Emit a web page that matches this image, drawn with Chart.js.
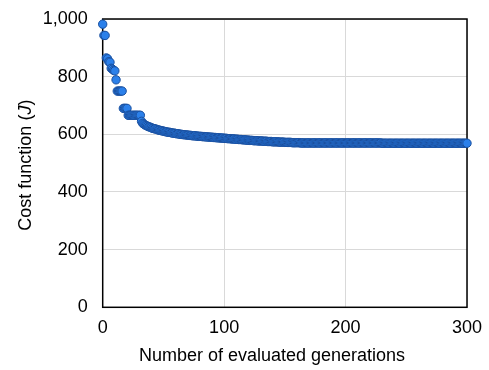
<!DOCTYPE html>
<html>
<head>
<meta charset="utf-8">
<script src="https://cdn.jsdelivr.net/npm/chart.js@4.4.0/dist/chart.umd.min.js"></script>
<style>
  html, body { margin:0; padding:0; background:#fff; }
  #wrap { width:489px; height:370px; position:relative; }
</style>
</head>
<body>
<div id="wrap"><canvas id="costChart" width="489" height="370"></canvas></div>
<script>
/* ── Data (best cost per generation, 0..300) ── */
const xTicks = [0, 100, 200, 300];
const yTicks = [0, 200, 400, 600, 800, 1000];
const costValues = [
  982, 943, 943, 865, 862, 852, 850, 829, 826, 822,
  820, 789, 750, 750, 750, 750, 750, 690, 690, 690,
  690, 666, 666, 666, 666, 666, 666, 666, 666, 666,
  666, 666, 645, 638, 635, 632, 630, 628, 626, 625,
  623, 621, 620, 619, 618, 616, 615, 614, 613, 612,
  611, 610, 609, 608, 607, 607, 606, 605, 604, 604,
  603, 602, 602, 601, 600, 600, 599, 599, 598, 598,
  597, 597, 596, 596, 595, 595, 595, 594, 594, 593,
  593, 593, 592, 592, 592, 591, 591, 591, 590, 590,
  590, 589, 589, 589, 588, 588, 588, 587, 587, 587,
  586, 586, 586, 585, 585, 585, 584, 584, 584, 583,
  583, 583, 582, 582, 582, 581, 581, 581, 580, 580,
  580, 579, 579, 579, 578, 578, 578, 578, 577, 577,
  577, 577, 576, 576, 576, 576, 575, 575, 575, 575,
  574, 574, 574, 574, 574, 573, 573, 573, 573, 573,
  572, 572, 572, 572, 572, 572, 571, 571, 571, 571,
  571, 571, 571, 570, 570, 570, 570, 570, 570, 570,
  570, 570, 570, 570, 570, 570, 570, 570, 570, 570,
  570, 570, 570, 570, 570, 570, 570, 570, 570, 570,
  570, 570, 570, 570, 570, 570, 570, 570, 570, 570,
  570, 570, 570, 570, 570, 570, 570, 570, 570, 570,
  570, 570, 570, 570, 570, 570, 570, 570, 570, 570,
  570, 570, 570, 570, 570, 570, 570, 570, 570, 570,
  569, 569, 569, 569, 569, 569, 569, 569, 569, 569,
  569, 569, 569, 569, 569, 569, 569, 569, 569, 569,
  569, 569, 569, 569, 569, 569, 569, 569, 569, 569,
  569, 569, 569, 569, 569, 569, 569, 569, 569, 569,
  569, 569, 569, 569, 569, 569, 569, 569, 569, 569,
  569, 569, 569, 569, 569, 569, 569, 569, 569, 569,
  569, 569, 569, 569, 569, 569, 569, 569, 569, 569,
  569
];
const xTitle = 'Number of evaluated generations';
const yTitleParts = [
  { text:'Cost function (', italic:false },
  { text:'J', italic:true },
  { text:')', italic:false }
];

const FONT = '"Liberation Sans", Arial, sans-serif';

/* ── frame box + axis titles (J in italics) ── */
const framePlugin = {
  id:'frame',
  beforeDatasetsDraw(chart) {
    const { ctx, chartArea:a } = chart;
    ctx.save();
    ctx.strokeStyle = '#000';
    ctx.lineWidth = 1.5;
    ctx.strokeRect(a.left, a.top, a.right - a.left, a.bottom - a.top);
    ctx.restore();
  },
  afterDraw(chart) {
    const { ctx, chartArea:a } = chart;
    ctx.save();
    ctx.fillStyle = '#000';
    ctx.textBaseline = 'middle';
    // x title
    ctx.font = '18px ' + FONT;
    ctx.textAlign = 'center';
    ctx.fillText(xTitle, 272, 356);
    // y title, rotated
    ctx.translate(26, (a.top + a.bottom) / 2 + 2);
    ctx.rotate(-Math.PI / 2);
    ctx.textAlign = 'left';
    const fonts = yTitleParts.map(p => (p.italic ? 'italic ' : '') + '18px ' + FONT);
    let total = 0;
    yTitleParts.forEach((p, i) => { ctx.font = fonts[i]; total += ctx.measureText(p.text).width; });
    let x = -total / 2;
    yTitleParts.forEach((p, i) => {
      ctx.font = fonts[i];
      ctx.fillText(p.text, x, 0);
      x += ctx.measureText(p.text).width;
    });
    ctx.restore();
  }
};

new Chart(document.getElementById('costChart'), {
  type:'scatter',
  data:{
    datasets:[{
      label:'Cost',
      data: costValues.map((v, i) => ({ x:i, y:v })),
      backgroundColor:'#2b80ea',
      borderColor:'#1a4f9e',
      borderWidth:1,
      pointRadius:4.2,
      pointHoverRadius:4.2,
      clip:false
    }]
  },
  options:{
    responsive:false,
    animation:false,
    events:[],
    layout:{ padding:{ left:0, right:22, top:19, bottom:0 } },
    plugins:{ legend:{display:false}, tooltip:{enabled:false} },
    scales:{
      x:{
        type:'linear', min:0, max:300,
        afterBuildTicks: s => { s.ticks = xTicks.map(v => ({ value:v })); },
        afterFit: s => { s.height = 62.7; s.paddingLeft = 0; s.paddingRight = 0; },
        grid:{ color:'#d9d9d9', lineWidth:1, drawTicks:false },
        border:{ display:false },
        ticks:{ color:'#000', font:{ family:FONT, size:18 }, padding:10, maxRotation:0 }
      },
      y:{
        type:'linear', min:0, max:1000,
        afterBuildTicks: s => { s.ticks = yTicks.map(v => ({ value:v })); },
        afterFit: s => { s.width = 102.7; s.paddingTop = 0; s.paddingBottom = 0; },
        grid:{ color:'#d9d9d9', lineWidth:1, drawTicks:false },
        border:{ display:false },
        ticks:{ color:'#000', font:{ family:FONT, size:18 }, padding:15,
                callback: v => v.toLocaleString('en-US') }
      }
    }
  },
  plugins:[framePlugin]
});
</script>
</body>
</html>
